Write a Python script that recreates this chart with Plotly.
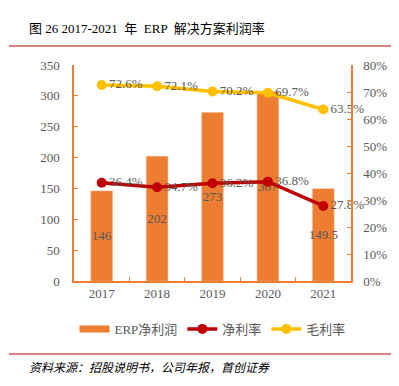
import plotly.graph_objects as go

years = ["2017", "2018", "2019", "2020", "2021"]
erp_profit = [146, 202, 273, 307, 149.5]
erp_labels = ["146", "202", "273", "307", "149.5"]
net_margin = [0.364, 0.347, 0.362, 0.368, 0.278]
gross_margin = [0.726, 0.721, 0.702, 0.697, 0.635]

FONT = "Liberation Serif, Noto Sans CJK SC"
GRAY = "#595959"
ORANGE = "#ED7D31"
DARKRED = "#C00000"
YELLOW = "#FFC000"

fig = go.Figure()
fig.add_trace(go.Bar(
    x=years, y=erp_profit, name="ERP净利润", showlegend=False,
    marker=dict(color=ORANGE, line=dict(color="#F4B183", width=0.5)),
    width=0.39,
    text=erp_labels, textposition="inside", insidetextanchor="middle",
    constraintext="none", textangle=0, cliponaxis=False,
    textfont=dict(family=FONT, size=13, color=GRAY),
    yaxis="y",
))
# legend swatch for the bars (wide rectangle like the reference)
fig.add_trace(go.Scatter(
    x=[None], y=[None], name="ERP净利润", mode="lines",
    line=dict(color=ORANGE, width=7), yaxis="y",
))
fig.add_trace(go.Scatter(
    x=years, y=net_margin, name="净利率", yaxis="y2",
    mode="lines+markers+text", cliponaxis=False,
    line=dict(color=DARKRED, width=3.5),
    marker=dict(color=DARKRED, size=10),
    text=[f"{v*100:.1f}%" for v in net_margin], textposition="middle right",
    textfont=dict(family=FONT, size=13, color=GRAY),
))
fig.add_trace(go.Scatter(
    x=years, y=gross_margin, name="毛利率", yaxis="y2",
    mode="lines+markers+text", cliponaxis=False,
    line=dict(color=YELLOW, width=3.5),
    marker=dict(color=YELLOW, size=10),
    text=[f"{v*100:.1f}%" for v in gross_margin], textposition="middle right",
    textfont=dict(family=FONT, size=13, color=GRAY),
))

axis_common = dict(showgrid=False, zeroline=False, showline=True, linecolor=ORANGE,
                   linewidth=1.5, ticks="inside", ticklen=4, tickcolor=ORANGE,
                   tickfont=dict(family=FONT, size=13, color=GRAY))

fig.update_layout(
    width=391, height=378,
    margin=dict(l=66, r=44, t=57, b=105),
    paper_bgcolor="white", plot_bgcolor="white",
    font=dict(family=FONT, color=GRAY),
    showlegend=True,
    legend=dict(orientation="h", x=0.5, xanchor="center", y=-0.222, yanchor="middle",
                font=dict(family=FONT, size=13, color=GRAY), itemwidth=30,
                traceorder="normal"),
    xaxis=dict(**axis_common, tickson="boundaries"),
    yaxis=dict(**axis_common, range=[0, 350], dtick=50, ticklabelstandoff=10),
    yaxis2=dict(**axis_common, range=[0, 0.8], dtick=0.1, tickformat=".0%",
                overlaying="y", side="right", ticklabelstandoff=8),
)

fig.add_annotation(xref="paper", yref="paper", x=-0.17, y=1.171, xanchor="left",
                   yanchor="middle", showarrow=False,
                   text="图 26 2017-2021  年  ERP  解决方案利润率",
                   font=dict(family=FONT, size=13, color="black"))
fig.add_annotation(xref="paper", yref="paper", x=-0.17, y=-0.403, xanchor="left",
                   yanchor="middle", showarrow=False,
                   text="<i>资料来源：招股说明书，公司年报，首创证券</i>",
                   font=dict(family=FONT, size=12, color="black"))
for yy in [1.088, -0.338]:
    fig.add_shape(type="line", xref="paper", yref="paper", x0=-0.235, x1=1.157,
                  y0=yy, y1=yy, line=dict(color="#C00000", width=1))

fig.write_html("out.html")
